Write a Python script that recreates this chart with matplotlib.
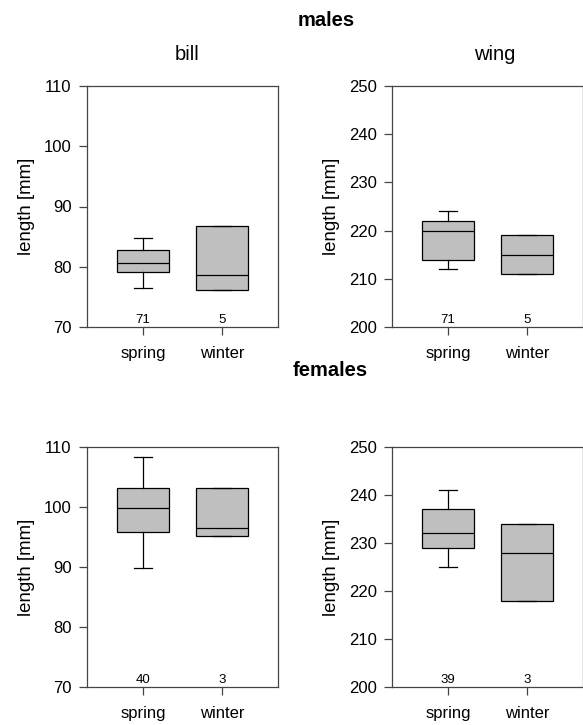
import matplotlib
matplotlib.use("Agg")
import matplotlib.pyplot as plt

plt.rcParams['font.family'] = ['Liberation Sans', 'DejaVu Sans']

seasons = ["spring", "winter"]

# five-number summaries: low whisker, Q1, median, Q3, high whisker
male_bill = [[76.4, 79.1, 80.7, 82.7, 84.8], [76.1, 76.1, 78.6, 86.7, 86.7]]
male_wing = [[212, 214, 220, 222, 224], [211, 211, 215, 219, 219]]
female_bill = [[89.9, 95.8, 99.9, 103.1, 108.3], [95.2, 95.2, 96.5, 103.1, 103.1]]
female_wing = [[225, 229, 232, 237, 241], [218, 218, 228, 234, 234]]

male_n = [71, 5]
male_wing_n = [71, 5]
female_n = [40, 3]
female_wing_n = [39, 3]

bill_ticks = [70, 80, 90, 100, 110]
wing_ticks = [200, 210, 220, 230, 240, 250]

W, H = 583, 725
fig = plt.figure(figsize=(W / 100, H / 100), dpi=100)


def px_axes(left, top, right, bottom):
    return fig.add_axes([left / W, 1 - bottom / H, (right - left) / W, (bottom - top) / H])


def panel(ax, summaries, counts, ticks):
    stats = []
    for lab, s in zip(seasons, summaries):
        stats.append(dict(label=lab, whislo=s[0], q1=s[1], med=s[2], q3=s[3], whishi=s[4], fliers=[]))
    ax.bxp(stats, positions=[1, 2], widths=0.67, capwidths=0.23, patch_artist=True,
           boxprops=dict(facecolor="#bfbfbf", edgecolor="black", linewidth=0.9),
           medianprops=dict(color="black", linewidth=0.9),
           whiskerprops=dict(color="black", linewidth=0.9),
           capprops=dict(color="black", linewidth=0.9))
    ax.set_xlim(0.29, 2.71)
    ax.set_ylim(ticks[0], ticks[-1])
    ax.set_yticks(ticks)
    ax.set_xticks([1, 2])
    ax.set_xticklabels(seasons)
    for sp in ax.spines.values():
        sp.set_color("#444444")
        sp.set_linewidth(0.9)
    ax.tick_params(axis="both", colors="#444444", labelcolor="black", length=5.5, width=0.9)
    ax.tick_params(axis="y", labelsize=12, pad=5.5)
    ax.tick_params(axis="x", labelsize=12, pad=8)
    ax.set_ylabel("length [mm]", fontsize=13.4)
    ax.yaxis.set_label_coords(-0.27, 0.5)
    for x, n in zip([1, 2], counts):
        ax.annotate(str(n), (x, ticks[0]), xytext=(0, 3), textcoords="offset points",
                    ha="center", va="baseline", fontsize=9.5)


ax1 = px_axes(87, 86, 278, 327)
panel(ax1, male_bill, male_n, bill_ticks)
ax2 = px_axes(392, 86, 583, 327)
panel(ax2, male_wing, male_wing_n, wing_ticks)
ax3 = px_axes(87, 447, 278, 687)
panel(ax3, female_bill, female_n, bill_ticks)
ax4 = px_axes(392, 447, 583, 687)
panel(ax4, female_wing, female_wing_n, wing_ticks)

fig.text(326 / W, 1 - 21 / H, "males", ha="center", va="center", fontsize=14.5, fontweight="bold")
fig.text(330 / W, 1 - 370 / H, "females", ha="center", va="center", fontsize=14.5, fontweight="bold")
fig.text(187 / W, 1 - 55 / H, "bill", ha="center", va="center", fontsize=14.5)
fig.text(495 / W, 1 - 55 / H, "wing", ha="center", va="center", fontsize=14.5)

fig.savefig("out.png", dpi=100)
